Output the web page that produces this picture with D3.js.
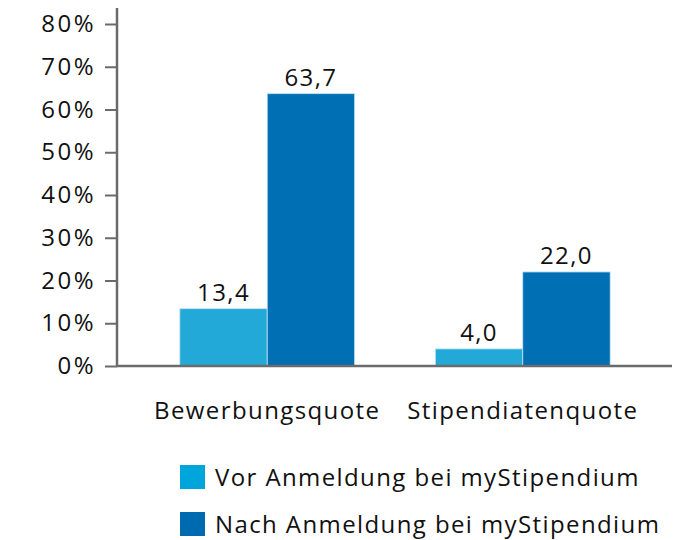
<!DOCTYPE html>
<html><head><meta charset="utf-8">
<script src="https://cdn.jsdelivr.net/npm/d3@7"></script>
<style>
html,body{margin:0;padding:0;background:#fff;}
text{font-family:"Open Sans","Noto Sans",sans-serif;fill:#111;letter-spacing:1.4px;}
</style></head>
<body><svg id="chart" width="690" height="540"></svg>
<script>
const categories = ["Bewerbungsquote", "Stipendiatenquote"];
const seriesNames = ["Vor Anmeldung bei myStipendium", "Nach Anmeldung bei myStipendium"];
const vorValues = [13.4, 4.0];
const nachValues = [63.7, 22.0];
const yTicks = [0, 10, 20, 30, 40, 50, 60, 70, 80];

const barColors = ["#23a9d7", "#006fb4"];
const legendColors = ["#00a5dc", "#006ab0"];
const fs = 24;

const svg = d3.select("#chart");
const x = d3.scaleBand().domain(categories).range([118, 672]).paddingInner(0.316).paddingOuter(0.242);
const x1 = d3.scaleBand().domain([0, 1]).range([0, x.bandwidth()]);
const y = d3.scaleLinear().domain([0, 80]).range([366, 24]);

const data = categories.map((c, i) => ({cat: c, vals: [vorValues[i], nachValues[i]]}));
const fmt = v => d3.format(".1f")(v).replace(".", ",");

// bars
const g = svg.append("g");
data.forEach(d => {
  d.vals.forEach((v, j) => {
    g.append("rect")
      .attr("x", x(d.cat) + x1(j))
      .attr("y", y(v))
      .attr("width", x1.bandwidth())
      .attr("height", y(0) - y(v))
      .attr("fill", barColors[j])
      .attr("stroke", "#bfe3f3")
      .attr("stroke-width", 0.8);
    g.append("text")
      .attr("x", x(d.cat) + x1(j) + x1.bandwidth() / 2)
      .attr("y", y(v) - 8)
      .attr("text-anchor", "middle")
      .attr("font-size", fs)
      .text(fmt(v));
  });
});

// y axis
const yAxis = d3.axisLeft(y).tickValues(yTicks).tickFormat(d => d + "%").tickSize(12).tickPadding(9);
const ya = svg.append("g").attr("transform", "translate(117,0)").call(yAxis);
ya.select(".domain").remove();
ya.selectAll(".tick line").attr("stroke", "#6b6b6b").attr("stroke-width", 2);
ya.selectAll(".tick text").attr("font-size", fs).attr("fill", "#111").attr("font-family", null)
  .style("letter-spacing", "2.5px");
svg.append("line").attr("x1", 117).attr("x2", 117).attr("y1", 8).attr("y2", 367)
  .attr("stroke", "#6b6b6b").attr("stroke-width", 2.5);

// x axis
const xAxis = d3.axisBottom(x).tickSize(0).tickPadding(36);
const xa = svg.append("g").attr("transform", "translate(0,366)").call(xAxis);
xa.select(".domain").remove();
xa.selectAll(".tick text").attr("font-size", fs).attr("fill", "#111").attr("font-family", null);
svg.append("line").attr("x1", 116).attr("x2", 672).attr("y1", 366).attr("y2", 366)
  .attr("stroke", "#6b6b6b").attr("stroke-width", 2.5);

// legend
const lg = svg.append("g").attr("transform", "translate(180,465)");
seriesNames.forEach((n, i) => {
  const row = lg.append("g").attr("transform", `translate(0,${i * 47})`);
  row.append("rect").attr("width", 25).attr("height", 24).attr("fill", legendColors[i]);
  row.append("text").attr("x", 35).attr("y", 21).attr("font-size", fs).text(n);
});
</script>
</body></html>
